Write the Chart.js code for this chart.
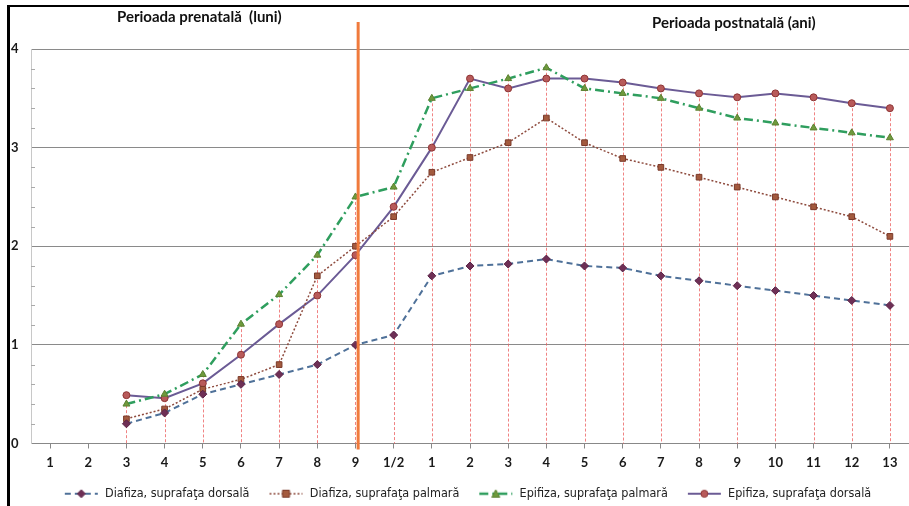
<!DOCTYPE html>
<html>
<head>
<meta charset="utf-8">
<script src="https://cdn.jsdelivr.net/npm/chart.js@4/dist/chart.umd.min.js"></script>
<style>
  html, body { margin: 0; padding: 0; background: #fff; }
  canvas { display: block; }
</style>
</head>
<body>
<canvas id="myChart" width="909" height="506"></canvas>
<script>
// luni (prenatal) then ani (postnatal)
const categories = ['1', '2', '3', '4', '5', '6', '7', '8', '9', '1/2', '1', '2', '3', '4', '5', '6', '7', '8', '9', '10', '11', '12', '13'];

const diafizaDorsala = [null, null, 0.2, 0.31, 0.5, 0.6, 0.7, 0.8, 1.0, 1.1, 1.7, 1.8, 1.82, 1.87, 1.8, 1.78, 1.7, 1.65, 1.6, 1.55, 1.5, 1.45, 1.4];
const diafizaPalmara = [null, null, 0.25, 0.35, 0.55, 0.65, 0.8, 1.7, 2.0, 2.3, 2.75, 2.9, 3.05, 3.3, 3.05, 2.89, 2.8, 2.7, 2.6, 2.5, 2.4, 2.3, 2.1];
const epifizaPalmara = [null, null, 0.4, 0.5, 0.7, 1.21, 1.51, 1.91, 2.5, 2.6, 3.5, 3.6, 3.7, 3.81, 3.6, 3.55, 3.5, 3.4, 3.3, 3.25, 3.2, 3.15, 3.1];
const epifizaDorsala = [null, null, 0.49, 0.46, 0.61, 0.9, 1.21, 1.5, 1.91, 2.4, 3.0, 3.7, 3.6, 3.7, 3.7, 3.66, 3.6, 3.55, 3.51, 3.55, 3.51, 3.45, 3.4];

const seriesNames = ['Diafiza, suprafaţa dorsală', 'Diafiza, suprafaţa palmară', 'Epifiza, suprafaţa palmară', 'Epifiza, suprafaţa dorsală'];
const periodTitles = ['Perioada prenatală  (luni)', 'Perioada postnatală (ani)'];
const birthIndex = 8; // luna 9

const tickFont = { family: 'Lato, "Open Sans", sans-serif', size: 13, weight: 'bold' };

// little canvas used as legend symbol: line pattern + marker
function legendSymbol(ds) {
    const c = document.createElement('canvas');
    c.width = 50;
    c.height = 12;
    const g = c.getContext('2d');
    g.strokeStyle = ds.borderColor;
    g.lineWidth = ds.borderWidth;
    g.setLineDash(ds.borderDash || []);
    g.beginPath();
    g.moveTo(16, 6);
    g.lineTo(49, 6);
    g.stroke();
    g.setLineDash([]);
    g.fillStyle = ds.pointBackgroundColor;
    g.strokeStyle = ds.pointBorderColor;
    g.lineWidth = 1;
    g.beginPath();
    const s = ds.pointStyle;
    const cx = 32.5;
    if (s === 'circle') g.arc(cx, 6, 3.5, 0, Math.PI * 2);
    else if (s === 'rect') g.rect(cx - 3.5, 2.5, 7, 7);
    else if (s === 'rectRot') { g.moveTo(cx, 2); g.lineTo(cx + 4, 6); g.lineTo(cx, 10); g.lineTo(cx - 4, 6); g.closePath(); }
    else if (s === 'triangle') { g.moveTo(cx, 2); g.lineTo(cx + 4, 9.5); g.lineTo(cx - 4, 9.5); g.closePath(); }
    g.fill();
    g.stroke();
    return c;
}

const dropLines = {
    id: 'dropLines',
    beforeDatasetsDraw(chart) {
        const { ctx, scales: { x, y } } = chart;
        ctx.save();
        ctx.strokeStyle = 'rgba(235, 90, 90, 0.75)';
        ctx.lineWidth = 1;
        ctx.setLineDash([3, 2]);
        categories.forEach((c, i) => {
            const vals = chart.data.datasets.map(d => d.data[i]).filter(v => v !== null);
            if (!vals.length) return;
            const px = Math.round(x.getPixelForValue(i)) + 0.5;
            ctx.beginPath();
            ctx.moveTo(px, y.getPixelForValue(Math.max(...vals)));
            ctx.lineTo(px, y.getPixelForValue(0));
            ctx.stroke();
        });
        ctx.restore();
    }
};

const decorations = {
    id: 'decorations',
    afterDatasetsDraw(chart) {
        const { ctx, chartArea, scales: { x } } = chart;
        ctx.save();
        // birth marker
        const bx = x.getPixelForValue(birthIndex + 0.07);
        ctx.strokeStyle = '#f07a3c';
        ctx.lineWidth = 3;
        ctx.beginPath();
        ctx.moveTo(bx, 22);
        ctx.lineTo(bx, chartArea.bottom + 6);
        ctx.stroke();
        ctx.restore();
    },
    afterDraw(chart) {
        const { ctx, chartArea, scales: { y } } = chart;
        ctx.save();
        // minor ticks on the value axis
        ctx.strokeStyle = '#aaa';
        ctx.lineWidth = 1;
        for (let v = 0.2; v < 4; v += 0.2) {
            if (Math.abs(v - Math.round(v)) < 0.01) continue;
            const py = Math.round(y.getPixelForValue(v)) + 0.5;
            ctx.beginPath();
            ctx.moveTo(chartArea.left, py);
            ctx.lineTo(chartArea.left + 4, py);
            ctx.stroke();
        }
        // period titles
        ctx.fillStyle = '#111';
        ctx.font = 'bold 15px Lato, "Open Sans", sans-serif';
        ctx.textBaseline = 'middle';
        ctx.fillText(periodTitles[0], 117, 17);
        ctx.fillText(periodTitles[1], 652, 23);
        // frame (top and left)
        ctx.fillStyle = '#000';
        ctx.fillRect(7, 5, 902, 2);
        ctx.fillRect(7, 5, 3, 501);
        ctx.restore();
    }
};

const ctx = document.getElementById('myChart').getContext('2d');

const myChart = new Chart(ctx, {
    type: 'line',
    data: {
        labels: categories,
        datasets: [{
            label: seriesNames[0],
            data: diafizaDorsala,
            borderColor: '#4f7199',
            borderWidth: 2,
            borderDash: [6, 4],
            pointStyle: 'rectRot',
            pointRadius: 4,
            pointBackgroundColor: '#6e2f55',
            pointBorderColor: '#5a2246',
            pointBorderWidth: 1
        }, {
            label: seriesNames[1],
            data: diafizaPalmara,
            borderColor: '#8e4b3e',
            borderWidth: 1.5,
            borderDash: [2, 2],
            pointStyle: 'rect',
            pointRadius: 4,
            pointBackgroundColor: '#a35a3e',
            pointBorderColor: '#7a3a2a',
            pointBorderWidth: 1
        }, {
            label: seriesNames[2],
            data: epifizaPalmara,
            borderColor: '#2f9e5e',
            borderWidth: 2.5,
            borderDash: [9, 4, 2, 4],
            pointStyle: 'triangle',
            pointRadius: 4,
            pointBackgroundColor: '#6f9a3c',
            pointBorderColor: '#5a8030',
            pointBorderWidth: 1
        }, {
            label: seriesNames[3],
            data: epifizaDorsala,
            borderColor: '#6b5b95',
            borderWidth: 2,
            pointStyle: 'circle',
            pointRadius: 3.5,
            pointBackgroundColor: '#b85a5a',
            pointBorderColor: '#8e3434',
            pointBorderWidth: 1
        }]
    },
    options: {
        responsive: false,
        animation: false,
        devicePixelRatio: 1,
        layout: { autoPadding: false, padding: { top: 49, left: 11, right: 0, bottom: -4 } },
        elements: { line: { tension: 0, fill: false } },
        scales: {
            x: {
                offset: true,
                grid: { drawOnChartArea: false, drawTicks: true, tickLength: 5, color: '#888' },
                border: { color: '#888' },
                ticks: { font: tickFont, color: '#1a1a1a', padding: 7, maxRotation: 0, autoSkip: false },
                afterFit(scale) { scale.height = 40; }
            },
            y: {
                min: 0,
                max: 4,
                grid: { color: '#8a8a8a', drawTicks: false },
                border: { display: true, color: '#c8c8c8' },
                ticks: { stepSize: 1, font: tickFont, color: '#1a1a1a', crossAlign: 'far', padding: 0 },
                afterFit(scale) { scale.width = 20; }
            }
        },
        plugins: {
            tooltip: { enabled: false },
            legend: {
                position: 'bottom',
                labels: {
                    usePointStyle: true,
                    pointStyleWidth: 50,
                    padding: 4,
                    color: '#222',
                    font: { family: '"Liberation Sans Narrow", "DejaVu Sans Condensed", "Liberation Sans", sans-serif', size: 12.5 },
                    generateLabels(chart) {
                        return chart.data.datasets.map((ds, i) => ({
                            text: ds.label,
                            pointStyle: legendSymbol(ds),
                            fillStyle: 'transparent',
                            strokeStyle: 'transparent',
                            lineWidth: 0,
                            fontColor: '#222',
                            hidden: false,
                            datasetIndex: i
                        }));
                    }
                }
            }
        }
    },
    plugins: [dropLines, decorations]
});
</script>
</body>
</html>
